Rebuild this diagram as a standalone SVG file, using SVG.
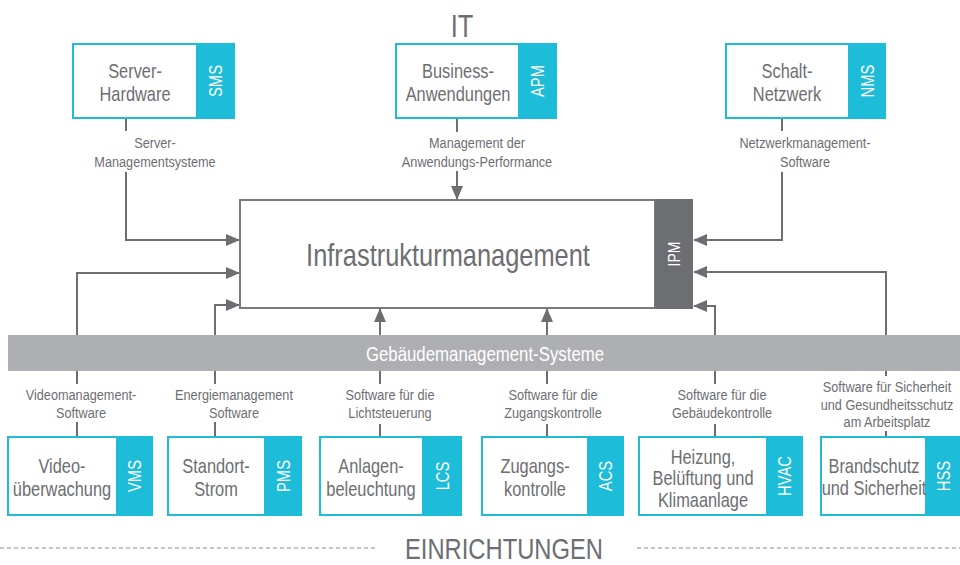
<svg xmlns="http://www.w3.org/2000/svg" width="960" height="565" viewBox="0 0 960 565">
<defs>
<style>
text{font-family:"Liberation Sans",Arial,sans-serif;fill:#6d6e71;text-anchor:middle}
.box{fill:#fff;stroke:#1dbcd8;stroke-width:2}
.tab{fill:#1dbcd8}
.tabt{fill:#fff;font-size:18px}
.bt{font-size:20px}
.lbl{font-size:15.5px}
.con{fill:none;stroke:#6d6e71;stroke-width:2}
</style>
<marker id="ah" viewBox="0 0 14 12" refX="13" refY="6" markerWidth="14" markerHeight="12" markerUnits="userSpaceOnUse" orient="auto">
<path d="M0,0 L14,6 L0,12 Z" fill="#6d6e71"/>
</marker>
</defs>
<rect width="960" height="565" fill="#fff"/>

<g id="connectors">
<path class="con" d="M126,119 V131"/>
<path class="con" d="M126,172 V240 H239" marker-end="url(#ah)"/>
<path class="con" d="M457,119 V132"/>
<path class="con" d="M457,171 V199" marker-end="url(#ah)"/>
<path class="con" d="M782,119 V131"/>
<path class="con" d="M782,172 V240 H694" marker-end="url(#ah)"/>
<path class="con" d="M77,437 V422"/>
<path class="con" d="M77,384 V273 H239" marker-end="url(#ah)"/>
<path class="con" d="M215,437 V422"/>
<path class="con" d="M215,384 V305 H239" marker-end="url(#ah)"/>
<path class="con" d="M380,437 V424"/>
<path class="con" d="M380,384 V309" marker-end="url(#ah)"/>
<path class="con" d="M547,437 V424"/>
<path class="con" d="M547,384 V309" marker-end="url(#ah)"/>
<path class="con" d="M715,437 V424"/>
<path class="con" d="M715,384 V306 H694" marker-end="url(#ah)"/>
<path class="con" d="M886,437 V431"/>
<path class="con" d="M886,376 V272 H694" marker-end="url(#ah)"/>
<line x1="0" y1="548" x2="378" y2="548" stroke="#8a8b8e" stroke-width="1" stroke-dasharray="4,3"/>
<line x1="637" y1="548" x2="960" y2="548" stroke="#8a8b8e" stroke-width="1" stroke-dasharray="4,3"/>
</g>

<text transform="translate(462,37) scale(0.82,1)" style="font-size:31px">IT</text>
<text transform="translate(504,559) scale(0.82,1)" style="font-size:29px">EINRICHTUNGEN</text>

<g id="gms">
<rect x="8" y="335" width="952" height="36" fill="#aeafb2"/>
<text transform="translate(485,361) scale(0.82,1)" style="font-size:20.5px;fill:#fff">Gebäudemanagement-Systeme</text>
</g>

<g id="ipm">
<rect x="240" y="200" width="415" height="108" fill="#fff" stroke="#7a7b7e" stroke-width="2"/>
<rect x="655" y="199" width="38" height="110" fill="#6d6e72"/>
<text transform="translate(448,266) scale(0.82,1)" style="font-size:31px">Infrastrukturmanagement</text>
<text transform="translate(680,254) rotate(-90) scale(0.82,1)" class="tabt" style="font-size:17px">IPM</text>
</g>

<g id="sms">
<rect class="box" x="73" y="44" width="124" height="74"/>
<rect class="tab" x="197" y="43" width="38" height="76"/>
<text class="bt" transform="translate(135,78) scale(0.82,1)">Server-</text>
<text class="bt" transform="translate(135,101) scale(0.82,1)">Hardware</text>
<text class="tabt" transform="translate(222,81) rotate(-90) scale(0.82,1)">SMS</text>
<text class="lbl" transform="translate(155,148) scale(0.82,1)">Server-</text>
<text class="lbl" transform="translate(155,167) scale(0.82,1)">Managementsysteme</text>
</g>

<g id="apm">
<rect class="box" x="396" y="44" width="123" height="74"/>
<rect class="tab" x="519" y="43" width="38" height="76"/>
<text class="bt" transform="translate(458,78) scale(0.82,1)">Business-</text>
<text class="bt" transform="translate(458,101) scale(0.82,1)">Anwendungen</text>
<text class="tabt" transform="translate(544,81) rotate(-90) scale(0.82,1)">APM</text>
<text class="lbl" transform="translate(477,148) scale(0.82,1)">Management der</text>
<text class="lbl" transform="translate(477,167) scale(0.82,1)">Anwendungs-Performance</text>
</g>

<g id="nms">
<rect class="box" x="726" y="44" width="123" height="74"/>
<rect class="tab" x="849" y="43" width="37" height="76"/>
<text class="bt" transform="translate(787,78) scale(0.82,1)">Schalt-</text>
<text class="bt" transform="translate(787,101) scale(0.82,1)">Netzwerk</text>
<text class="tabt" transform="translate(874,81) rotate(-90) scale(0.82,1)">NMS</text>
<text class="lbl" transform="translate(805,148) scale(0.82,1)">Netzwerkmanagement-</text>
<text class="lbl" transform="translate(805,167) scale(0.82,1)">Software</text>
</g>

<g id="vms">
<rect class="box" x="8" y="437" width="109" height="78"/>
<rect class="tab" x="117" y="436" width="36" height="80"/>
<text class="bt" transform="translate(62,473) scale(0.82,1)">Video-</text>
<text class="bt" transform="translate(62,496) scale(0.82,1)">überwachung</text>
<text class="tabt" transform="translate(141,476) rotate(-90) scale(0.82,1)">VMS</text>
<text class="lbl" transform="translate(81,400) scale(0.82,1)">Videomanagement-</text>
<text class="lbl" transform="translate(81,418) scale(0.82,1)">Software</text>
</g>

<g id="pms">
<rect class="box" x="168" y="437" width="97" height="78"/>
<rect class="tab" x="265" y="436" width="37" height="80"/>
<text class="bt" transform="translate(216,473) scale(0.82,1)">Standort-</text>
<text class="bt" transform="translate(216,496) scale(0.82,1)">Strom</text>
<text class="tabt" transform="translate(290,476) rotate(-90) scale(0.82,1)">PMS</text>
<text class="lbl" transform="translate(234,400) scale(0.82,1)">Energiemanagement</text>
<text class="lbl" transform="translate(234,418) scale(0.82,1)">Software</text>
</g>

<g id="lcs">
<rect class="box" x="320" y="437" width="103" height="78"/>
<rect class="tab" x="423" y="436" width="39" height="80"/>
<text class="bt" transform="translate(371,473) scale(0.82,1)">Anlagen-</text>
<text class="bt" transform="translate(371,496) scale(0.82,1)">beleuchtung</text>
<text class="tabt" transform="translate(449,476) rotate(-90) scale(0.82,1)">LCS</text>
<text class="lbl" transform="translate(390,400) scale(0.82,1)">Software für die</text>
<text class="lbl" transform="translate(390,418) scale(0.82,1)">Lichtsteuerung</text>
</g>

<g id="acs">
<rect class="box" x="482" y="437" width="106" height="78"/>
<rect class="tab" x="588" y="436" width="36" height="80"/>
<text class="bt" transform="translate(535,473) scale(0.82,1)">Zugangs-</text>
<text class="bt" transform="translate(535,496) scale(0.82,1)">kontrolle</text>
<text class="tabt" transform="translate(612,476) rotate(-90) scale(0.82,1)">ACS</text>
<text class="lbl" transform="translate(553,400) scale(0.82,1)">Software für die</text>
<text class="lbl" transform="translate(553,418) scale(0.82,1)">Zugangskontrolle</text>
</g>

<g id="hvac">
<rect class="box" x="639" y="437" width="128" height="78"/>
<rect class="tab" x="767" y="436" width="36" height="80"/>
<text class="bt" transform="translate(703,464) scale(0.82,1)">Heizung,</text>
<text class="bt" transform="translate(703,485) scale(0.82,1)">Belüftung und</text>
<text class="bt" transform="translate(703,507) scale(0.82,1)">Klimaanlage</text>
<text class="tabt" transform="translate(791,476) rotate(-90) scale(0.82,1)">HVAC</text>
<text class="lbl" transform="translate(722,400) scale(0.82,1)">Software für die</text>
<text class="lbl" transform="translate(722,418) scale(0.82,1)">Gebäudekontrolle</text>
</g>

<g id="hss">
<rect class="box" x="821" y="437" width="105" height="78"/>
<rect class="tab" x="926" y="436" width="34" height="80"/>
<text class="bt" transform="translate(874,473) scale(0.82,1)">Brandschutz</text>
<text class="bt" transform="translate(874,495) scale(0.82,1)">und Sicherheit</text>
<text class="tabt" transform="translate(950,476) rotate(-90) scale(0.82,1)">HSS</text>
<text class="lbl" transform="translate(887,392) scale(0.82,1)">Software für Sicherheit</text>
<text class="lbl" transform="translate(887,410) scale(0.82,1)">und Gesundheitsschutz</text>
<text class="lbl" transform="translate(887,427) scale(0.82,1)">am Arbeitsplatz</text>
</g>
</svg>
